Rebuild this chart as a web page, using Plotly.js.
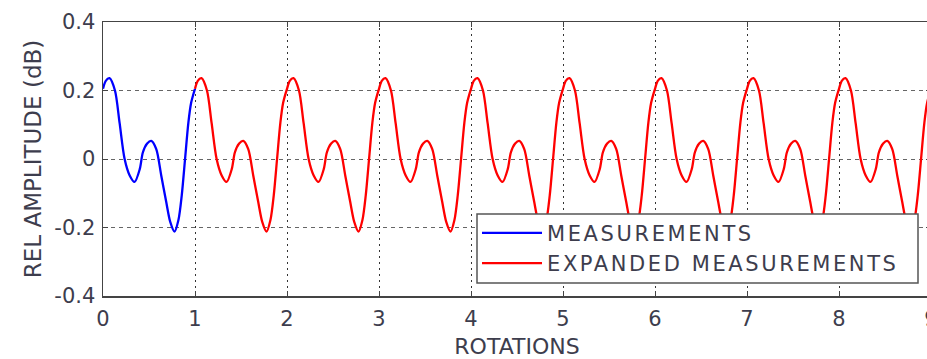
<!DOCTYPE html>
<html><head><meta charset="utf-8">
<script src="https://cdn.plot.ly/plotly-3.0.1.min.js"></script>
<style>html,body{margin:0;padding:0;overflow:hidden;background:#fff}#chart{width:940px;height:359px}
.legendtext{letter-spacing:2.6px}</style>
</head><body><div id="chart"></div>
<script>
// One measured rotation (phase within rotation, relative amplitude in dB)
const phase    = [0, 0.03, 0.07, 0.13, 0.18, 0.235, 0.29, 0.343, 0.40, 0.433, 0.48, 0.524, 0.579, 0.633, 0.687, 0.73, 0.777, 0.82, 0.856, 0.892, 0.928, 0.958, 1.0];
const measured = [0.205, 0.228, 0.236, 0.2, 0.106, 0, -0.048, -0.067, -0.029, 0.019, 0.045, 0.053, 0.029, -0.048, -0.125, -0.183, -0.212, -0.178, -0.106, 0, 0.106, 0.164, 0.205];
// Rotations onto which the measurement is expanded
const expandedRotations = [1, 2, 3, 4, 5, 6, 7, 8];
const xTicks = [0, 1, 2, 3, 4, 5, 6, 7, 8, 9];
const yTicks = [-0.4, -0.2, 0, 0.2, 0.4];
const yTickText = ['-0.4', '-0.2', '0', '0.2', '0.4'];

const expX = [], expY = [];
expandedRotations.forEach((k, j) => {
  phase.forEach((p, i) => {
    if (j > 0 && i === 0) return;
    expX.push(k + p); expY.push(measured[i]);
  });
});

const FONT = 'DejaVu Sans, Arial, sans-serif';
const TXT = '#3d3d4d';

const traces = [
  {x: phase, y: measured, type: 'scatter', mode: 'lines', name: 'MEASUREMENTS',
   line: {color: '#0000ff', width: 2.3, shape: 'spline', smoothing: 0.8}},
  {x: expX, y: expY, type: 'scatter', mode: 'lines', name: 'EXPANDED MEASUREMENTS',
   line: {color: '#ff0000', width: 2.3, shape: 'spline', smoothing: 0.8}}
];

// legend frame in plot-area fractions
const PW = 828, PH = 274;
const layout = {
  width: 940, height: 359,
  margin: {l: 103, r: 9, t: 22, b: 63},
  paper_bgcolor: '#fff', plot_bgcolor: '#fff',
  showlegend: true,
  shapes: [{type: 'rect', xref: 'paper', yref: 'paper', layer: 'above',
            x0: (477 - 103) / PW, x1: (918 - 103) / PW, y0: (296 - 283) / PH, y1: (296 - 214) / PH,
            fillcolor: '#fff', line: {color: '#555', width: 1.5}}],
  legend: {x: 0.4517, y: 0.304, xanchor: 'left', yanchor: 'top',
           bgcolor: 'rgba(0,0,0,0)', borderwidth: 0,
           font: {family: FONT, size: 21, color: TXT}, itemwidth: 60, tracegroupgap: 0},
  xaxis: {range: [0, 9], tickvals: xTicks, ticks: 'inside', ticklen: 5, tickcolor: '#444',
          showline: true, linecolor: '#444', linewidth: 1.5, mirror: 'ticks',
          showgrid: true, gridcolor: '#333', gridwidth: 1, griddash: '2px,4px', zeroline: false,
          tickfont: {family: FONT, size: 21, color: TXT}, ticklabelstandoff: 3,
          title: {text: 'ROTATIONS', font: {family: FONT, size: 22, color: TXT}, standoff: 9}},
  yaxis: {range: [-0.4, 0.4], tickvals: yTicks, ticktext: yTickText, ticks: 'inside', ticklen: 5, tickcolor: '#444',
          showline: true, linecolor: '#444', linewidth: 1.5, mirror: 'ticks',
          showgrid: true, gridcolor: '#666', gridwidth: 1, griddash: '4px,4px', zeroline: false,
          tickfont: {family: FONT, size: 21, color: TXT}, ticklabelstandoff: 2,
          title: {text: 'REL AMPLITUDE (dB)', font: {family: FONT, size: 23, color: TXT}, standoff: 6}}
};

Plotly.newPlot('chart', traces, layout, {displayModeBar: false, staticPlot: true});
</script>
</body></html>
